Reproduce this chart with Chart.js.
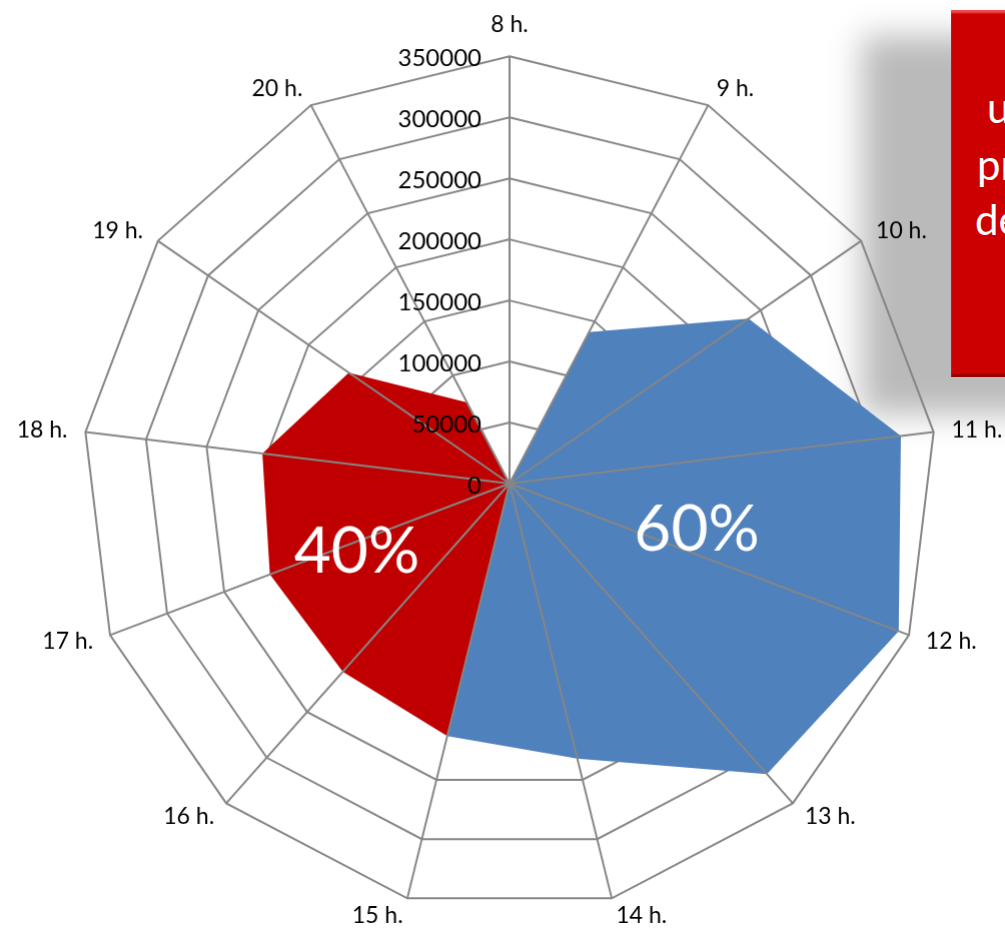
<!DOCTYPE html>
<html>
<head>
<meta charset="utf-8">
<script src="https://cdn.jsdelivr.net/npm/chart.js@4.4.1/dist/chart.umd.min.js"></script>
<style>
  html, body { margin: 0; padding: 0; width: 1005px; height: 928px; overflow: hidden; background: #fff; }
  #shadow { position: absolute; left: 862px; top: 36px; width: 230px; height: 378px;
            background: rgba(0,0,0,0.27); filter: blur(16px); z-index: 0; }
  #wrap { position: absolute; left: 0; top: 0; width: 1005px; height: 928px; z-index: 1; }
  #note { position: absolute; left: 951px; top: 10px; width: 120px; height: 367px; z-index: 2;
          background: #cc0000;
          box-shadow: inset 0 3px 2px rgba(255,110,110,0.7), inset 0 -3px 2px rgba(110,0,0,0.6); }
  #note span { position: absolute; color: #fff; font: 42px Lato, sans-serif; line-height: 1; }
</style>
</head>
<body>
<div id="shadow"></div>
<div id="wrap"><canvas id="radar"></canvas></div>
<div id="note">
  <span style="left:36px; top:76px">u</span>
  <span style="left:26px; top:133px">pr</span>
  <span style="left:24px; top:188px">de</span>
</div>
<script>
const hours = ['8 h.', '9 h.', '10 h.', '11 h.', '12 h.', '13 h.', '14 h.',
               '15 h.', '16 h.', '17 h.', '18 h.', '19 h.', '20 h.'];
const dayShift     = [0, 140000, 238000, 323000, 341000, 318000, 232000, 213000, 0, 0, 0, 0, 0];
const eveningShift = [0, 0, 0, 0, 0, 0, 0, 213000, 206000, 210000, 204000, 160000, 75000];
const tickStep = 50000;
const tickMax = 350000;
const shareLabels = ['60%', '40%'];

// where the share labels sit, as (axis index, value) in the radar
const shareAnchors = [{ at: 3.75, value: 158000 }, { at: 8.88, value: 137000 }];

const GRID = '#868686';
const TARGET_R = 427, CX = 509, CY = 483;

const overlay = {
  id: 'overlay',
  afterDatasetsDraw(chart) {
    const r = chart.scales.r;
    const ctx = chart.ctx;
    ctx.save();
    // spokes sit on top of the filled areas
    ctx.strokeStyle = GRID;
    ctx.lineWidth = 2;
    hours.forEach((_, i) => {
      const p = r.getPointPosition(i, r.drawingArea);
      ctx.beginPath();
      ctx.moveTo(r.xCenter, r.yCenter);
      ctx.lineTo(p.x, p.y);
      ctx.stroke();
    });
    // value labels right-aligned left of the vertical axis
    ctx.font = '24px Lato';
    ctx.fillStyle = '#000';
    ctx.textAlign = 'right';
    ctx.textBaseline = 'middle';
    r.ticks.forEach(t => {
      const y = r.yCenter - r.getDistanceFromCenterForValue(t.value);
      ctx.fillText(String(t.value), r.xCenter - 28, y + 2);
    });
    ctx.font = '64px Lato';
    ctx.fillStyle = '#fff';
    ctx.textAlign = 'center';
    shareLabels.forEach((s, k) => {
      const a = shareAnchors[k];
      const p = r.getPointPosition(a.at, r.getDistanceFromCenterForValue(a.value));
      ctx.fillText(s, p.x, p.y);
    });
    ctx.restore();
  }
};

document.fonts.load('23px Lato').then(() => {
  const chart = new Chart(document.getElementById('radar'), {
    type: 'radar',
    data: {
      labels: hours,
      datasets: [
        { data: dayShift, backgroundColor: '#4f81bd', borderWidth: 0, fill: true, pointRadius: 0 },
        { data: eveningShift, backgroundColor: '#c00000', borderWidth: 0, fill: true, pointRadius: 0 }
      ]
    },
    options: {
      responsive: true,
      maintainAspectRatio: false,
      animation: false,
      plugins: { legend: { display: false }, tooltip: { enabled: false } },
      scales: {
        r: {
          min: 0,
          max: tickMax,
          ticks: { stepSize: tickStep, display: false },
          grid: { color: GRID, lineWidth: 2 },
          angleLines: { display: false },
          pointLabels: {
            color: '#000',
            // tiny line height keeps each label centred on its anchor, like Excel does
            font: { family: 'Lato', size: 23, lineHeight: 0.01 },
            padding: c => (c.index === 0 ? 32 : 18)
          }
        }
      }
    },
    plugins: [overlay]
  });

  // size the canvas so the outer ring and centre land where they are in the picture
  const wrap = document.getElementById('wrap');
  let w = 1005, h = 928;
  for (let k = 0; k < 6; k++) {
    const d = TARGET_R - chart.scales.r.drawingArea;
    if (Math.abs(d) < 0.5) break;
    w += 2 * d; h += 2 * d;
    wrap.style.width = w + 'px';
    wrap.style.height = h + 'px';
    chart.resize();
  }
  const s = chart.scales.r;
  wrap.style.left = (CX - s.xCenter) + 'px';
  wrap.style.top = (CY - s.yCenter) + 'px';
});
</script>
</body>
</html>
